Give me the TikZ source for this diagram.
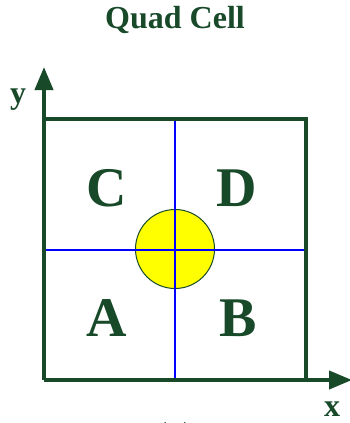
\documentclass[tikz,border=0pt]{standalone}
\usepackage{xcolor}
\usepackage{fontspec}
\setmainfont{Liberation Serif}
\usepackage{tikz}
\usetikzlibrary{arrows.meta, positioning, calc}
\definecolor{cellgreen}{RGB}{24, 74, 42}
\definecolor{splitblue}{RGB}{0, 0, 255}
\definecolor{spotyellow}{RGB}{255, 255, 0}

\begin{document}
\begin{tikzpicture}[
    x=1pt, y=-1pt,
    frame/.style={draw=cellgreen, line width=4pt},
    axis/.style={draw=cellgreen, line width=4pt, -{Triangle[length=23pt, width=18pt]}},
    divider/.style={draw=splitblue, line width=2pt},
    spot/.style={draw=cellgreen, line width=1pt, circle, fill=spotyellow, minimum size=79pt, inner sep=0pt},
    quadrant/.style={text=cellgreen, font=\bfseries\fontsize{56}{56}\selectfont, anchor=base},
    axislabel/.style={text=cellgreen, font=\bfseries\fontsize{32}{32}\selectfont, anchor=base}
]
\useasboundingbox (0,0) rectangle (350,423);

% Title
\node[axislabel] (title) at (175,28) {Quad Cell};

% Cell corners
\coordinate (origin) at (44,380);
\coordinate (topleft) at (44,119);
\coordinate (topright) at (306,119);
\coordinate (botright) at (306,380);
\coordinate (xend) at (352,380);
\coordinate (yend) at (44,67);

% Light spot
\node[spot] (spot) at (175,249) {};

% Quadrant dividers
\draw[divider] ($(topleft)!0.5!(topright)$) -- ($(origin)!0.5!(botright)$);
\draw[divider] ($(topleft)!0.5!(origin)$) -- ($(topright)!0.5!(botright)$);

% Cell frame
\draw[frame] (topleft) -- (topright) -- (botright);

% Axes
\draw[axis] (origin) -- (yend);
\draw[axis] (origin) -- (xend);
\node[axislabel] (ylab) at (18,103) {y};
\node[axislabel] (xlab) at (332,416) {x};

% Quadrant labels
\node[quadrant] (qc) at (107,206) {C};
\node[quadrant] (qd) at (237,206) {D};
\node[quadrant] (qa) at (107,336) {A};
\node[quadrant] (qb) at (238,336) {B};

% Caption
\node[axislabel] (caption) at (175,444) {(a)};

\end{tikzpicture}
\end{document}
